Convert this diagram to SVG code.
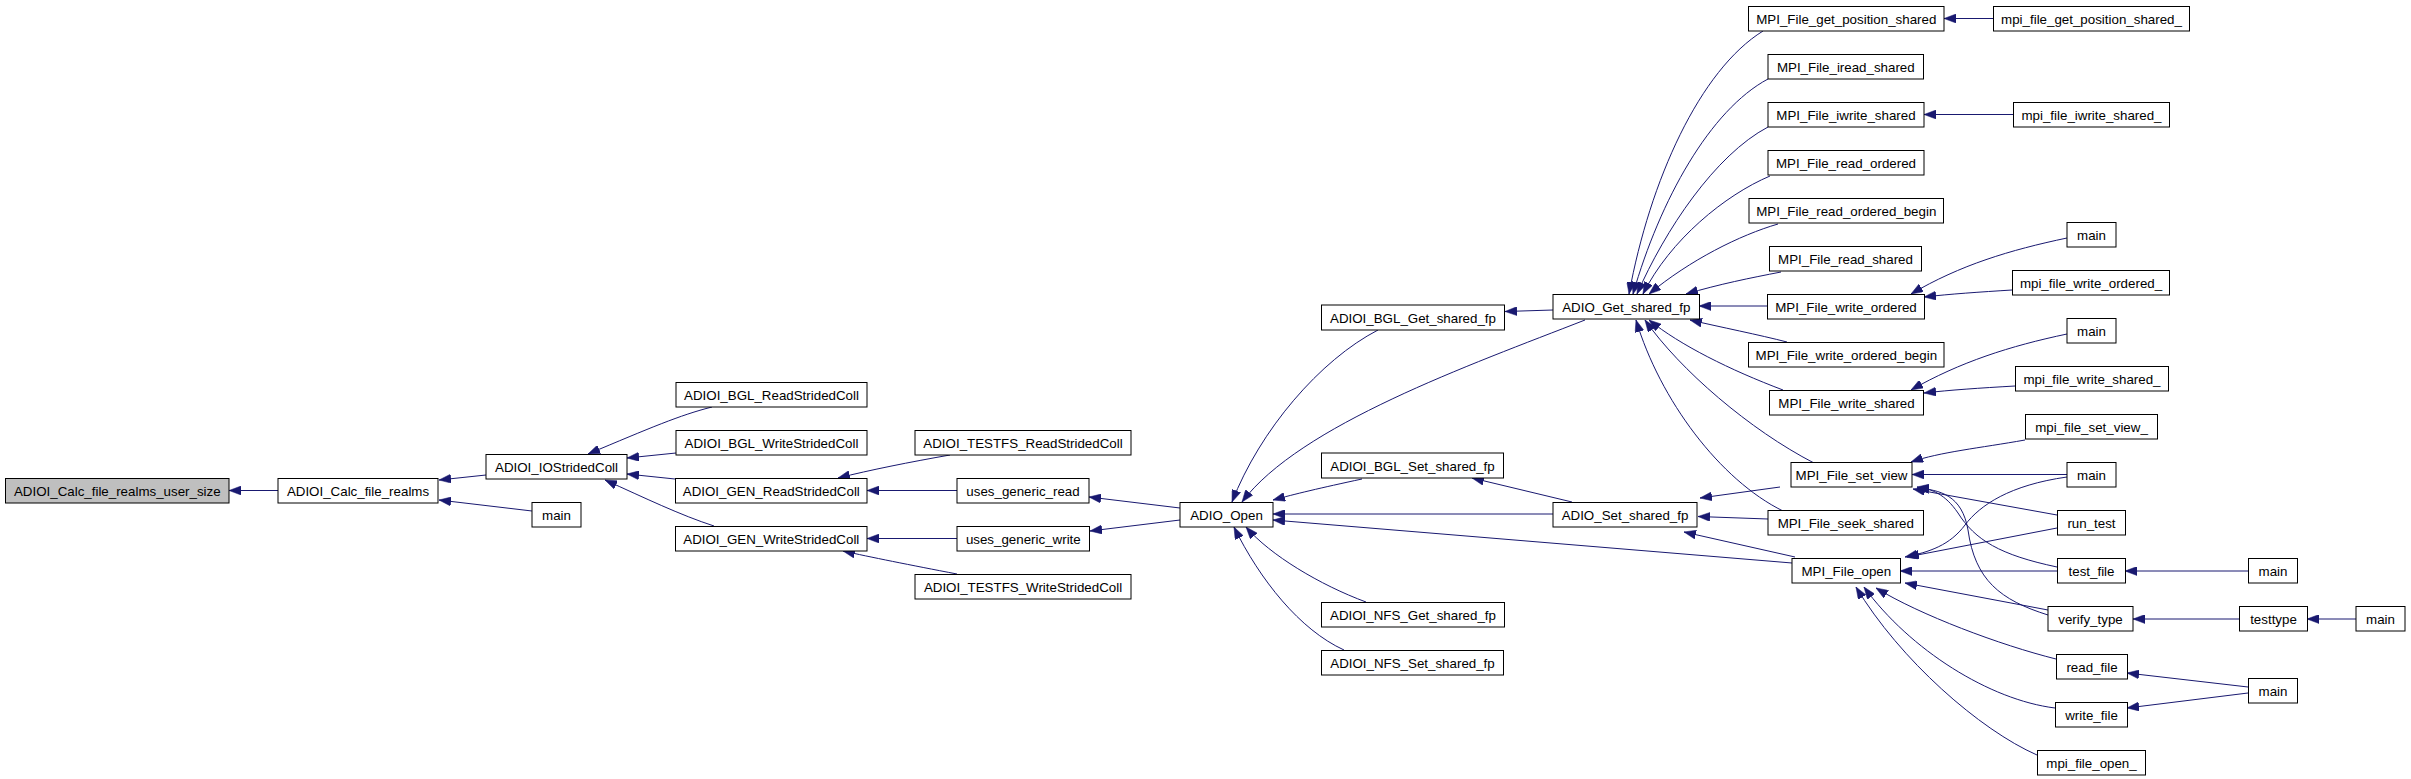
<svg xmlns="http://www.w3.org/2000/svg" width="2411" height="779" viewBox="0 0 2411 779">
<style>
.node rect{fill:#fff;stroke:#000;stroke-width:1}
.node.root rect{fill:#bfbfbf}
.node text{font-family:"Liberation Sans",Arial,sans-serif;font-size:13.33px;text-anchor:middle;fill:#000}
.edges path{fill:none;stroke:#191970;stroke-width:1;marker-end:url(#arr)}
</style>
<defs>
<marker id="arr" viewBox="0 0 12 9" refX="12" refY="4.5" markerWidth="12" markerHeight="9" markerUnits="userSpaceOnUse" orient="auto">
<path d="M0,0 L12,4.5 L0,9 z" fill="#191970" stroke="#191970" stroke-width="0.5"/>
</marker>
</defs>
<rect width="2411" height="779" fill="#fff"/>
<g class="edges" id="edges">
<path d="M278,490.5 L229,490.5"/>
<path d="M486,475 L439,480"/>
<path d="M532,511 L439,500"/>
<path d="M712,407 C680,415 650,428 588,454"/>
<path d="M676,453 L627,458"/>
<path d="M675,479 L627,474"/>
<path d="M714,526 C680,515 645,498 605,480"/>
<path d="M950,455 C910,462 870,470 838,478"/>
<path d="M957,490.5 L867,490.5"/>
<path d="M957,538.5 L867,538.5"/>
<path d="M957,574 C910,565 870,557 843,551"/>
<path d="M1180,508 L1089,497"/>
<path d="M1180,520 L1090,531"/>
<path d="M1378,330 C1320,360 1260,430 1232,502"/>
<path d="M1585,320 C1470,365 1300,425 1242,502"/>
<path d="M1362,479 C1320,488 1295,494 1273,500"/>
<path d="M1553,514 L1273,514"/>
<path d="M1792,563 L1273,520"/>
<path d="M1366,602 C1320,585 1270,555 1246,527"/>
<path d="M1344,650 C1300,630 1260,580 1234,527"/>
<path d="M1553,310 L1505,311.5"/>
<path d="M1572,502 L1472,478"/>
<path d="M1763,31 C1700,70 1650,180 1629,294"/>
<path d="M1768,79 C1710,110 1660,200 1633,294"/>
<path d="M1768,127 C1715,155 1665,230 1637,294"/>
<path d="M1770,176 C1725,195 1670,240 1643,294"/>
<path d="M1778,224 C1740,235 1690,260 1649,294"/>
<path d="M1781,272 C1750,278 1720,284 1686,294"/>
<path d="M1767,306 L1699,306"/>
<path d="M1787,342 C1760,335 1720,327 1690,320"/>
<path d="M1783,390 C1730,370 1680,345 1649,320"/>
<path d="M1814,463 C1750,430 1680,370 1645,320"/>
<path d="M1783,511 C1720,480 1660,400 1636,320"/>
<path d="M1780,487 L1700,498"/>
<path d="M1768,519 L1698,516.5"/>
<path d="M1795,557 L1684,532"/>
<path d="M1993,18.5 L1944,18.5"/>
<path d="M2013,114.5 L1924,114.5"/>
<path d="M2067,238 C2010,250 1960,265 1911,294"/>
<path d="M2012,290 C1980,292 1950,294 1924,297"/>
<path d="M2067,334 C2010,346 1960,362 1911,390"/>
<path d="M2015,386 C1980,388 1950,390 1924,393"/>
<path d="M2025,440 C1980,448 1940,452 1911,462"/>
<path d="M2067,474.5 L1912,474.5"/>
<path d="M2057,515 L1913,489"/>
<path d="M2057,567 C2000,555 1975,540 1958,513 C1945,494 1932,489 1917,487"/>
<path d="M2048,615 C2000,600 1975,580 1968,530 C1962,495 1940,490 1917,488"/>
<path d="M2067,477 C2010,485 1980,505 1965,525 C1950,545 1930,552 1905,557"/>
<path d="M2057,528 L1907,557"/>
<path d="M2057,571 L1900,571"/>
<path d="M2048,610 L1905,583"/>
<path d="M2056,659 C2000,645 1920,615 1876,588"/>
<path d="M2055,708 C1990,700 1910,650 1864,587"/>
<path d="M2037,755 C1980,730 1900,660 1856,587"/>
<path d="M2248,571 L2125,571"/>
<path d="M2239,619 L2133,619"/>
<path d="M2356,619 L2307,619"/>
<path d="M2248,687 L2127,673"/>
<path d="M2248,693 L2127,708"/>
</g>
<g id="n0" class="node root"><rect x="5.5" y="478.5" width="223.5" height="24.5"/><text x="117.3" y="495.5">ADIOI_Calc_file_realms_user_size</text></g>
<g id="n1" class="node"><rect x="278" y="478.5" width="160" height="24.5"/><text x="358" y="495.5">ADIOI_Calc_file_realms</text></g>
<g id="n2" class="node"><rect x="532" y="502.5" width="49" height="24.5"/><text x="556.5" y="519.5">main</text></g>
<g id="n3" class="node"><rect x="486" y="454.5" width="141" height="24.5"/><text x="556.5" y="471.5">ADIOI_IOStridedColl</text></g>
<g id="n4" class="node"><rect x="676" y="382.5" width="191" height="24.5"/><text x="771.5" y="399.5">ADIOI_BGL_ReadStridedColl</text></g>
<g id="n5" class="node"><rect x="676" y="430.5" width="191" height="24.5"/><text x="771.5" y="447.5">ADIOI_BGL_WriteStridedColl</text></g>
<g id="n6" class="node"><rect x="675.5" y="478.5" width="191.5" height="24.5"/><text x="771.3" y="495.5">ADIOI_GEN_ReadStridedColl</text></g>
<g id="n7" class="node"><rect x="675.5" y="526.5" width="191.5" height="24.5"/><text x="771.3" y="543.5">ADIOI_GEN_WriteStridedColl</text></g>
<g id="n8" class="node"><rect x="915" y="430.5" width="216" height="24.5"/><text x="1023" y="447.5">ADIOI_TESTFS_ReadStridedColl</text></g>
<g id="n9" class="node"><rect x="957" y="478.5" width="132" height="24.5"/><text x="1023" y="495.5">uses_generic_read</text></g>
<g id="n10" class="node"><rect x="957" y="526.5" width="132.5" height="24.5"/><text x="1023.3" y="543.5">uses_generic_write</text></g>
<g id="n11" class="node"><rect x="915" y="574.5" width="216" height="24.5"/><text x="1023" y="591.5">ADIOI_TESTFS_WriteStridedColl</text></g>
<g id="n12" class="node"><rect x="1180" y="502.5" width="93" height="24.5"/><text x="1226.5" y="519.5">ADIO_Open</text></g>
<g id="n13" class="node"><rect x="1321.5" y="305" width="183" height="25"/><text x="1413" y="322.5">ADIOI_BGL_Get_shared_fp</text></g>
<g id="n14" class="node"><rect x="1321.5" y="453" width="182" height="25"/><text x="1412.5" y="470.5">ADIOI_BGL_Set_shared_fp</text></g>
<g id="n15" class="node"><rect x="1321.5" y="602.5" width="183" height="24.5"/><text x="1413" y="619.5">ADIOI_NFS_Get_shared_fp</text></g>
<g id="n16" class="node"><rect x="1321.5" y="650.5" width="182" height="24.5"/><text x="1412.5" y="667.5">ADIOI_NFS_Set_shared_fp</text></g>
<g id="n17" class="node"><rect x="1553" y="294.5" width="146.5" height="24.5"/><text x="1626.3" y="311.5">ADIO_Get_shared_fp</text></g>
<g id="n18" class="node"><rect x="1553" y="502.5" width="144" height="24.5"/><text x="1625" y="519.5">ADIO_Set_shared_fp</text></g>
<g id="n19" class="node"><rect x="1748.5" y="6.5" width="195.5" height="24.5"/><text x="1846.3" y="23.5">MPI_File_get_position_shared</text></g>
<g id="n20" class="node"><rect x="1768" y="54.5" width="155.5" height="24.5"/><text x="1845.8" y="71.5">MPI_File_iread_shared</text></g>
<g id="n21" class="node"><rect x="1768" y="102.5" width="156" height="24.5"/><text x="1846" y="119.5">MPI_File_iwrite_shared</text></g>
<g id="n22" class="node"><rect x="1768" y="150.5" width="156" height="24.5"/><text x="1846" y="167.5">MPI_File_read_ordered</text></g>
<g id="n23" class="node"><rect x="1749" y="198.5" width="194.5" height="24.5"/><text x="1846.3" y="215.5">MPI_File_read_ordered_begin</text></g>
<g id="n24" class="node"><rect x="1769.5" y="246.5" width="152" height="24.5"/><text x="1845.5" y="263.5">MPI_File_read_shared</text></g>
<g id="n25" class="node"><rect x="1767.5" y="294.5" width="157" height="24.5"/><text x="1846" y="311.5">MPI_File_write_ordered</text></g>
<g id="n26" class="node"><rect x="1748.5" y="342.5" width="195.5" height="24.5"/><text x="1846.3" y="359.5">MPI_File_write_ordered_begin</text></g>
<g id="n27" class="node"><rect x="1769.5" y="390.5" width="154" height="24.5"/><text x="1846.5" y="407.5">MPI_File_write_shared</text></g>
<g id="n28" class="node"><rect x="1791" y="462.5" width="121" height="24.5"/><text x="1851.5" y="479.5">MPI_File_set_view</text></g>
<g id="n29" class="node"><rect x="1768" y="510.5" width="155.5" height="24.5"/><text x="1845.8" y="527.5">MPI_File_seek_shared</text></g>
<g id="n30" class="node"><rect x="1792" y="558.5" width="108.5" height="24.5"/><text x="1846.3" y="575.5">MPI_File_open</text></g>
<g id="n31" class="node"><rect x="1993.5" y="6.5" width="196" height="24.5"/><text x="2091.5" y="23.5">mpi_file_get_position_shared_</text></g>
<g id="n32" class="node"><rect x="2013.5" y="102.5" width="156" height="24.5"/><text x="2091.5" y="119.5">mpi_file_iwrite_shared_</text></g>
<g id="n33" class="node"><rect x="2067" y="222.5" width="49" height="24.5"/><text x="2091.5" y="239.5">main</text></g>
<g id="n34" class="node"><rect x="2012.5" y="270.5" width="157" height="24.5"/><text x="2091" y="287.5">mpi_file_write_ordered_</text></g>
<g id="n35" class="node"><rect x="2067" y="318.5" width="49" height="24.5"/><text x="2091.5" y="335.5">main</text></g>
<g id="n36" class="node"><rect x="2015.5" y="366.5" width="153" height="24.5"/><text x="2092" y="383.5">mpi_file_write_shared_</text></g>
<g id="n37" class="node"><rect x="2025.5" y="414.5" width="132" height="24.5"/><text x="2091.5" y="431.5">mpi_file_set_view_</text></g>
<g id="n38" class="node"><rect x="2067" y="462.5" width="49" height="24.5"/><text x="2091.5" y="479.5">main</text></g>
<g id="n39" class="node"><rect x="2057.5" y="510.5" width="68" height="24.5"/><text x="2091.5" y="527.5">run_test</text></g>
<g id="n40" class="node"><rect x="2057.5" y="558.5" width="68" height="24.5"/><text x="2091.5" y="575.5">test_file</text></g>
<g id="n41" class="node"><rect x="2248.5" y="558.5" width="49" height="24.5"/><text x="2273" y="575.5">main</text></g>
<g id="n42" class="node"><rect x="2048" y="606.5" width="85" height="24.5"/><text x="2090.5" y="623.5">verify_type</text></g>
<g id="n43" class="node"><rect x="2239.5" y="606.5" width="68" height="24.5"/><text x="2273.5" y="623.5">testtype</text></g>
<g id="n44" class="node"><rect x="2356" y="606.5" width="49" height="24.5"/><text x="2380.5" y="623.5">main</text></g>
<g id="n45" class="node"><rect x="2056.5" y="654.5" width="71" height="24.5"/><text x="2092" y="671.5">read_file</text></g>
<g id="n46" class="node"><rect x="2248.5" y="678.5" width="49" height="24.5"/><text x="2273" y="695.5">main</text></g>
<g id="n47" class="node"><rect x="2055.5" y="702.5" width="72" height="24.5"/><text x="2091.5" y="719.5">write_file</text></g>
<g id="n48" class="node"><rect x="2037.5" y="750.5" width="108" height="24.5"/><text x="2091.5" y="767.5">mpi_file_open_</text></g>
</svg>
